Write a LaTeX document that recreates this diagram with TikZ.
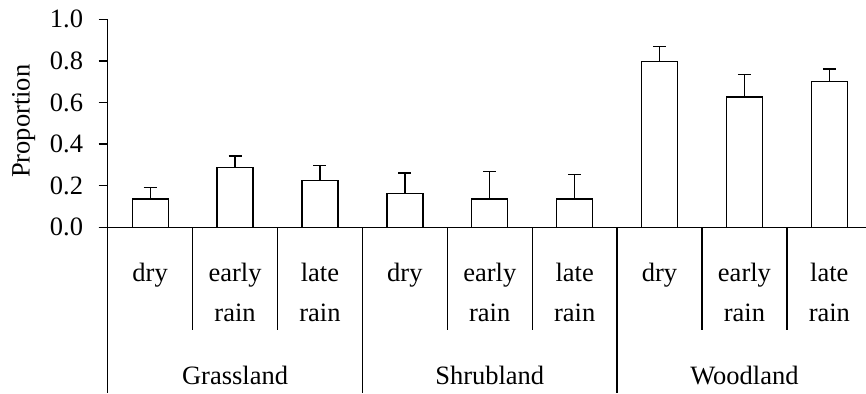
\documentclass[tikz,border=0pt]{standalone}
\usepackage{fontspec}
\setmainfont{Liberation Serif}
\begin{document}
\begin{tikzpicture}[x=1pt,y=1pt,line width=1.3pt,
		every node/.style={font=\fontsize{26.5}{31}\selectfont,inner sep=0pt},
		bar/.style={draw,fill=white}]
		\def\w{84.9}
		\def\u{208}
		\useasboundingbox (-107.7,-165.7) rectangle (758.3,227.3);
		% bars with error bars
		\foreach \i/\v/\e in {0/0.136/0.190,1/0.288/0.343,2/0.224/0.296,
			3/0.163/0.261,4/0.136/0.269,5/0.136/0.253,
			6/0.798/0.868,7/0.626/0.734,8/0.700/0.761}{%
			\draw[bar] ({(\i+0.5)*\w-18},0) rectangle ({(\i+0.5)*\w+18},\v*\u);
			\draw ({(\i+0.5)*\w},\v*\u) -- ({(\i+0.5)*\w},\e*\u);
			\draw ({(\i+0.5)*\w-6.5},\e*\u) -- ({(\i+0.5)*\w+6.5},\e*\u);
			}
		% axes
		\draw (0,\u) -- (0,-165.7);
		\draw (-9,0) -- (758.3,0);
		\foreach \t [count=\k] in {0.0,0.2,0.4,0.6,0.8,1.0}{%
			\draw (-9,\t*\u) -- (0,\t*\u);
			\node (tick\k) [anchor=east] at (-24,\t*\u) {\t};
			}
		\node (ylab) [rotate=90] at (-84,106) {Proportion};
		% category separators
		\foreach \i in {1,2,4,5,7,8} \draw (\i*\w,0) -- (\i*\w,-102.7);
		\foreach \i in {3,6} \draw (\i*\w,0) -- (\i*\w,-165.7);
		% labels
		\foreach \g/\name in {0/Grassland,1/Shrubland,2/Woodland}{%
			\node (grp\g) [anchor=base] at ({(3*\g+1.5)*\w},-157.2) {\name};
			\node (dry\g) [anchor=base] at ({(3*\g+0.5)*\w},-54.4) {dry};
			\node (early\g) [anchor=base] at ({(3*\g+1.5)*\w},-54.4) {early};
			\node (late\g) [anchor=base] at ({(3*\g+2.5)*\w},-54.4) {late};
			\node (erain\g) [anchor=base] at ({(3*\g+1.5)*\w},-94.4) {rain};
			\node (lrain\g) [anchor=base] at ({(3*\g+2.5)*\w},-94.4) {rain};
			}
	\end{tikzpicture}
\end{document}
